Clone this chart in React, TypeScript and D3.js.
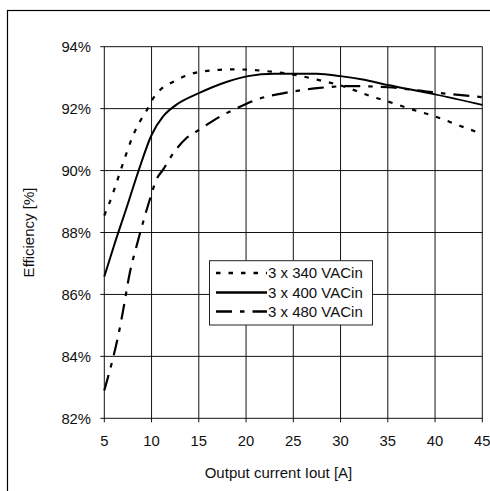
import React from "react";
import * as d3 from "d3";

const xTicks = [5, 10, 15, 20, 25, 30, 35, 40, 45];
const yTicks = [82, 84, 86, 88, 90, 92, 94];

const current340 = [5, 5.6, 7, 8, 8.8, 9.5, 10.1, 10.9, 12.3, 15, 18.5, 22.5, 25, 28, 30, 33, 35, 37.7, 40, 42.6, 45];
const eff340 = [88.55, 89.0, 90.25, 91.1, 91.6, 91.95, 92.3, 92.6, 92.87, 93.18, 93.27, 93.2, 93.1, 92.9, 92.75, 92.42, 92.23, 91.96, 91.75, 91.45, 91.18];

const current400 = [5, 6, 7.4, 8.6, 10, 11.2, 12.6, 15, 18, 20.2, 23, 27.5, 30, 32.5, 35, 37.7, 40, 45];
const eff400 = [86.58, 87.55, 88.84, 89.97, 91.15, 91.74, 92.12, 92.5, 92.87, 93.05, 93.13, 93.13, 93.05, 92.93, 92.76, 92.6, 92.46, 92.12];

const current480 = [5, 5.8, 6.5, 7, 7.7, 8.4, 8.8, 9.8, 10.5, 11.2, 12.3, 13.7, 15, 17, 20, 21, 24, 27.5, 31, 35, 40, 45];
const eff480 = [82.9, 83.8, 84.7, 85.5, 86.7, 87.55, 88.0, 89.05, 89.7, 90.02, 90.56, 91.05, 91.31, 91.7, 92.15, 92.28, 92.5, 92.66, 92.73, 92.69, 92.52, 92.37];

const seriesNames = ["3 x 340 VACin", "3 x 400 VACin", "3 x 480 VACin"];
const xTitle = "Output current Iout [A]";
const yTitle = "Efficiency [%]";

const FONT = "'Liberation Sans', Arial, sans-serif";

export default function App() {
  const left = 104.3, right = 482.3, top = 46.7, bottom = 418.3;
  const x = d3.scaleLinear().domain([5, 45]).range([left, right]);
  const y = d3.scaleLinear().domain([82, 94]).range([bottom, top]);

  const line = d3
    .line<[number, number]>()
    .x((d) => x(d[0]))
    .y((d) => y(d[1]))
    .curve(d3.curveMonotoneX);

  const zip = (a: number[], b: number[]) => a.map((v, i) => [v, b[i]] as [number, number]);

  const series = [
    { data: zip(current340, eff340), dash: "4.5,8", w: 2.2 },
    { data: zip(current400, eff400), dash: "", w: 2 },
    { data: zip(current480, eff480), dash: "16,8,4.5,8", w: 2.2 },
  ];

  const legX = 209.5, legY = 260.7, legW = 163, legH = 64.3;
  const rowY = [273, 292.5, 311.5];

  return (
    <svg
      width={490}
      height={491}
      style={{ position: "absolute", left: 0, top: 0, background: "#fff" }}
      fontFamily={FONT}
    >
      <rect x={0} y={0} width={490} height={491} fill="#fff" />
      <rect x={7.5} y={10.5} width={600} height={600} fill="none" stroke="#000" strokeWidth={1.2} />

      {/* grid */}
      {xTicks.map((t) => (
        <line key={"gx" + t} x1={x(t)} x2={x(t)} y1={top} y2={bottom + 4} stroke="#111" strokeWidth={1} />
      ))}
      {yTicks.map((t) => (
        <line key={"gy" + t} x1={left - 4} x2={right} y1={y(t)} y2={y(t)} stroke="#111" strokeWidth={1} />
      ))}

      {/* tick labels */}
      {yTicks.map((t) => (
        <text key={"ly" + t} x={91} y={y(t) + 5.3} fontSize={14.8} textAnchor="end" fill="#111">
          {t + "%"}
        </text>
      ))}
      {xTicks.map((t) => (
        <text key={"lx" + t} x={x(t)} y={446} fontSize={14.8} textAnchor="middle" fill="#111">
          {t}
        </text>
      ))}

      {/* titles */}
      <text x={278.5} y={478} fontSize={15} textAnchor="middle" fill="#111">
        {xTitle}
      </text>
      <text
        transform={`translate(33.6,232.5) rotate(-90)`}
        fontSize={15}
        textAnchor="middle"
        fill="#111"
      >
        {yTitle}
      </text>

      {/* curves */}
      {series.map((s, i) => (
        <path
          key={"s" + i}
          d={line(s.data) || ""}
          fill="none"
          stroke="#000"
          strokeWidth={s.w}
          strokeDasharray={s.dash || undefined}
        />
      ))}

      {/* legend */}
      <rect x={legX} y={legY} width={legW} height={legH} fill="#fff" stroke="#222" strokeWidth={1} />
      {series.map((s, i) => (
        <g key={"leg" + i}>
          <line
            x1={216}
            x2={267}
            y1={rowY[i]}
            y2={rowY[i]}
            stroke="#000"
            strokeWidth={2.5}
            strokeDasharray={s.dash || undefined}
          />
          <text x={268} y={rowY[i] + 5.3} fontSize={15} fill="#111">
            {seriesNames[i]}
          </text>
        </g>
      ))}
    </svg>
  );
}
